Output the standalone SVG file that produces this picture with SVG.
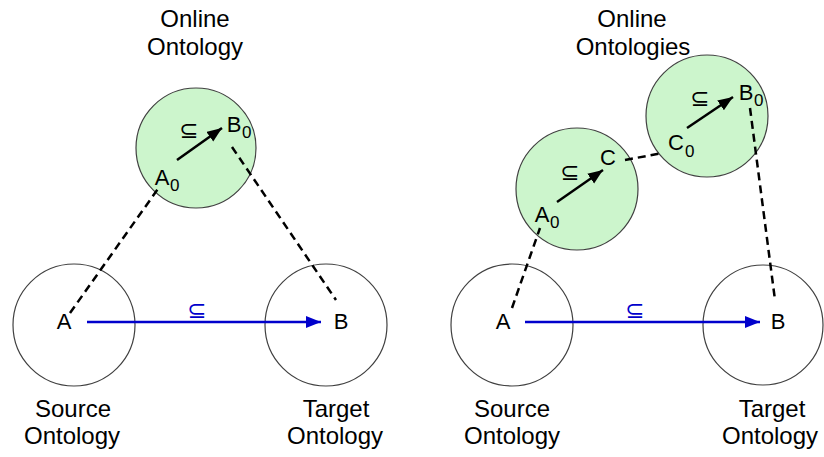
<svg xmlns="http://www.w3.org/2000/svg" width="824" height="457" viewBox="0 0 824 457">
<style>
.bg{fill:#ffffff}
.plain{fill:#ffffff;stroke:#404040;stroke-width:1.2}
.green{fill:#ccf5cc;stroke:#404040;stroke-width:1.2}
.lbl{font-family:"Liberation Sans",Arial,sans-serif;font-size:24px;fill:#000;text-anchor:middle}
.nd{font-family:"Liberation Sans",Arial,sans-serif;font-size:22px;fill:#000;text-anchor:middle}
.sub{font-family:"Liberation Sans",Arial,sans-serif;font-size:17px;fill:#000}
.sym{font-family:"DejaVu Sans",sans-serif;font-size:23px;text-anchor:middle}
.dash{stroke:#000;stroke-width:2.5;stroke-dasharray:8 5;fill:none}
.arr{stroke:#000;stroke-width:2.5;fill:none;marker-end:url(#ah)}
.blue{stroke:#0000cc;stroke-width:2.5;fill:none;marker-end:url(#bh)}
</style>
<defs>
<marker id="ah" markerUnits="userSpaceOnUse" markerWidth="16" markerHeight="14" refX="15" refY="6" orient="auto"><path d="M0,0 L15,6 L0,12 Z" fill="#000"/></marker>
<marker id="bh" markerUnits="userSpaceOnUse" markerWidth="16" markerHeight="14" refX="15" refY="6" orient="auto"><path d="M0,0 L15,6 L0,12 Z" fill="#0000cc"/></marker>
</defs>
<rect class="bg" x="0" y="0" width="824" height="457"/>

<g id="labels">
<text class="lbl" x="195" y="27">Online</text>
<text class="lbl" x="195" y="55">Ontology</text>
<text class="lbl" x="632" y="27">Online</text>
<text class="lbl" x="633" y="55">Ontologies</text>
<text class="lbl" x="73" y="417">Source</text>
<text class="lbl" x="72" y="444">Ontology</text>
<text class="lbl" x="336" y="417">Target</text>
<text class="lbl" x="335" y="444">Ontology</text>
<text class="lbl" x="512" y="417">Source</text>
<text class="lbl" x="512" y="444">Ontology</text>
<text class="lbl" x="772" y="417">Target</text>
<text class="lbl" x="770" y="444">Ontology</text>
</g>

<g id="left-source"><circle class="plain" cx="74" cy="325" r="61"/></g>
<g id="left-target"><circle class="plain" cx="326" cy="325" r="61"/></g>
<g id="left-online"><circle class="green" cx="196" cy="148" r="60"/></g>

<g id="right-source"><circle class="plain" cx="512" cy="325" r="61"/></g>
<g id="right-target"><circle class="plain" cx="763" cy="325" r="60"/></g>
<g id="right-online1"><circle class="green" cx="577" cy="189" r="61"/></g>
<g id="right-online2"><circle class="green" cx="707" cy="116" r="61"/></g>

<g id="connectors">
<line class="dash" x1="70" y1="313" x2="160" y2="186"/>
<line class="dash" x1="232" y1="147" x2="336" y2="300"/>
<line class="arr" x1="177" y1="160" x2="222" y2="128"/>
<line class="blue" x1="87" y1="322" x2="321" y2="322"/>
<text class="sym" x="189" y="138" fill="#000">⊆</text>
<text class="sym" x="197" y="318" fill="#0000cc">⊆</text>

<line class="dash" x1="512" y1="308" x2="540" y2="228"/>
<line class="arr" x1="557" y1="202" x2="603" y2="170"/>
<line class="dash" x1="625" y1="160" x2="663" y2="153"/>
<line class="arr" x1="687" y1="128" x2="733" y2="97"/>
<line class="dash" x1="750" y1="108" x2="775" y2="300"/>
<line class="blue" x1="525" y1="322" x2="760" y2="322"/>
<text class="sym" x="570" y="180" fill="#000">⊆</text>
<text class="sym" x="700" y="106" fill="#000">⊆</text>
<text class="sym" x="635" y="318" fill="#0000cc">⊆</text>
</g>

<g id="node-labels">
<text class="nd" x="64" y="329">A</text>
<text class="nd" x="341" y="329">B</text>
<text class="nd" x="162" y="185">A</text><text class="sub" x="170" y="191">0</text>
<text class="nd" x="234" y="132">B</text><text class="sub" x="242" y="138">0</text>

<text class="nd" x="503" y="329">A</text>
<text class="nd" x="778" y="329">B</text>
<text class="nd" x="542" y="222">A</text><text class="sub" x="550" y="228">0</text>
<text class="nd" x="608" y="165">C</text>
<text class="nd" x="676" y="150">C</text><text class="sub" x="685" y="157">0</text>
<text class="nd" x="746" y="100">B</text><text class="sub" x="754" y="106">0</text>
</g>
</svg>
